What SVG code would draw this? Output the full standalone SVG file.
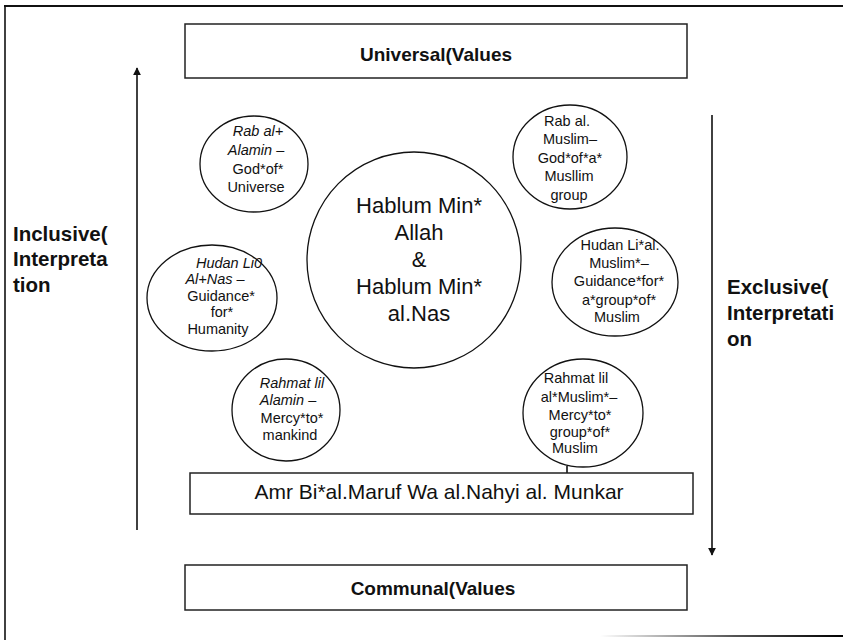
<svg xmlns="http://www.w3.org/2000/svg" width="843" height="640" viewBox="0 0 843 640">
<style>
.box{fill:#fff;stroke:#222;stroke-width:1.5}
.c{fill:#fff;stroke:#111;stroke-width:1.3}
.t{font-family:"Liberation Sans",Arial,sans-serif;font-size:14.5px;fill:#111;text-anchor:middle}
.ti{font-style:italic}
.big{font-family:"Liberation Sans",Arial,sans-serif;font-size:22px;fill:#111;text-anchor:middle}
.b{font-family:"Liberation Sans",Arial,sans-serif;font-weight:bold;font-size:19px;fill:#111}
.side{font-size:20.5px}
.ln{stroke:#111;stroke-width:1.6;fill:none}
</style>
<defs>
<marker id="ah" viewBox="0 0 10 10" refX="9" refY="5" markerWidth="8" markerHeight="8" markerUnits="userSpaceOnUse" orient="auto">
<path d="M0,0 L10,5 L0,10 Z" fill="#111"/>
</marker>
<linearGradient id="bg" x1="0" x2="1" y1="0" y2="0">
<stop offset="0" stop-color="#fff"/><stop offset="0.55" stop-color="#555"/><stop offset="1" stop-color="#000"/>
</linearGradient>
</defs>
<rect width="843" height="640" fill="#fff"/>
<g id="frame">
<line x1="4" y1="6" x2="843" y2="6" stroke="#111" stroke-width="2"/>
<line x1="5" y1="6" x2="5" y2="640" stroke="#111" stroke-width="1.6"/>
<rect x="600" y="635" width="243" height="2" fill="url(#bg)"/>
</g>
<g id="connectors">
<line class="ln" x1="137" y1="530" x2="137" y2="68" marker-end="url(#ah)"/>
<line class="ln" x1="712" y1="115" x2="712" y2="555" marker-end="url(#ah)"/>
<line class="ln" x1="567" y1="466" x2="567" y2="473"/>
</g>
<g id="universal">
<rect class="box" x="185" y="24" width="502" height="54"/>
<text class="b" x="436" y="61" text-anchor="middle">Universal(Values</text>
</g>
<g id="communal">
<rect class="box" x="185" y="565" width="502" height="45"/>
<text class="b" x="433" y="595" text-anchor="middle">Communal(Values</text>
</g>
<g id="inclusive">
<text class="b side" x="13" y="241">Inclusive(</text>
<text class="b side" x="13" y="266">Interpreta</text>
<text class="b side" x="13" y="292">tion</text>
</g>
<g id="exclusive">
<text class="b side" x="727" y="294">Exclusive(</text>
<text class="b side" x="727" y="320">Interpretati</text>
<text class="b side" x="727" y="346">on</text>
</g>
<g id="hablum">
<ellipse class="c" cx="414" cy="260" rx="107" ry="108"/>
<text class="big" x="419" y="213">Hablum Min*</text>
<text class="big" x="419" y="240">Allah</text>
<text class="big" x="419" y="267">&amp;</text>
<text class="big" x="419" y="294">Hablum Min*</text>
<text class="big" x="419" y="321">al.Nas</text>
</g>
<g id="rab-alamin">
<ellipse class="c" cx="254" cy="164" rx="54" ry="48"/>
<text class="t ti" x="258" y="136">Rab al+</text>
<text class="t ti" x="256" y="155">Alamin –</text>
<text class="t" x="258" y="174">God*of*</text>
<text class="t" x="256" y="192">Universe</text>
</g>
<g id="rab-muslim">
<ellipse class="c" cx="570" cy="157" rx="57" ry="52"/>
<text class="t" x="567" y="126">Rab al.</text>
<text class="t" x="570" y="144">Muslim–</text>
<text class="t" x="570" y="163">God*of*a*</text>
<text class="t" x="569" y="181">Musllim</text>
<text class="t" x="569" y="200">group</text>
</g>
<g id="hudan-nas">
<ellipse class="c" cx="212" cy="298" rx="65" ry="53"/>
<text class="t ti" x="229" y="268">Hudan Li0</text>
<text class="t ti" x="215" y="284">Al+Nas –</text>
<text class="t" x="221" y="301">Guidance*</text>
<text class="t" x="222" y="317">for*</text>
<text class="t" x="218" y="334">Humanity</text>
</g>
<g id="hudan-muslim">
<ellipse class="c" cx="615" cy="282" rx="63" ry="54"/>
<text class="t" x="620" y="250">Hudan Li*al.</text>
<text class="t" x="619" y="268">Muslim*–</text>
<text class="t" x="619" y="286">Guidance*for*</text>
<text class="t" x="619" y="305">a*group*of*</text>
<text class="t" x="617" y="322">Muslim</text>
</g>
<g id="rahmat-alamin">
<ellipse class="c" cx="286" cy="410" rx="54" ry="51"/>
<text class="t ti" x="292" y="388">Rahmat lil</text>
<text class="t ti" x="288" y="405">Alamin –</text>
<text class="t" x="292" y="423">Mercy*to*</text>
<text class="t" x="290" y="440">mankind</text>
</g>
<g id="rahmat-muslim">
<ellipse class="c" cx="583" cy="413" rx="60" ry="54"/>
<text class="t" x="576" y="383">Rahmat lil</text>
<text class="t" x="579" y="402">al*Muslim*–</text>
<text class="t" x="580" y="420">Mercy*to*</text>
<text class="t" x="580" y="437">group*of*</text>
<text class="t" x="575" y="453">Muslim</text>
</g>
<g id="amr">
<rect class="box" x="190" y="473" width="503" height="41"/>
<text class="big" x="439" y="499" style="font-size:21px">Amr Bi*al.Maruf Wa al.Nahyi al. Munkar</text>
</g>
</svg>
